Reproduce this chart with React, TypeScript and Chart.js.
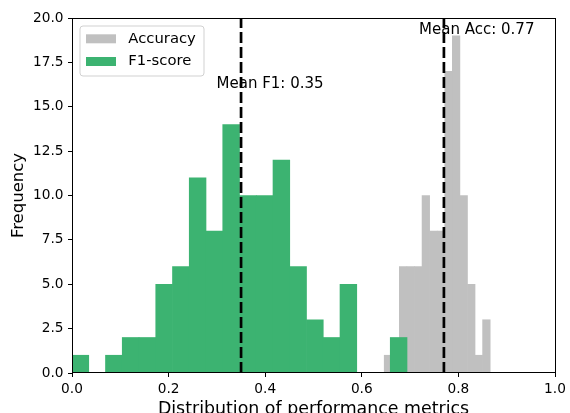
import React, { useEffect, useRef } from "react";
import { Chart, registerables } from "chart.js";

Chart.register(...registerables);

// Histogram counts per bin (equal-width bins spanning each range)
const f1Counts = [1, 0, 1, 2, 2, 5, 6, 11, 8, 14, 10, 10, 12, 6, 3, 2, 5, 0, 0, 2];
const f1Range = [0.0, 0.6936];
const accCounts = [1, 0, 6, 6, 6, 10, 8, 8, 17, 19, 10, 5, 1, 3];
const accRange = [0.6464, 0.8658];

// Means: [F1-score, Accuracy]
const meanValues = [0.35, 0.77];
const meanLabels = ["Mean F1: 0.35", "Mean Acc: 0.77"];
const meanLabelX = [0.41, 0.838];
const meanLabelY = [16.3, 19.3];

const seriesLabels = ["Accuracy", "F1-score"];
const seriesColors = ["#C0C0C0", "#3CB371"];

const xTitle = "Distribution of performance metrics";
const yTitle = "Frequency";

const FONT = "DejaVu Sans";

function histBars(counts: number[], range: number[]) {
  const w = (range[1] - range[0]) / counts.length;
  return counts.map((c, i) => ({ x: range[0] + (i + 0.5) * w, y: c }));
}

const decorPlugin = {
  id: "decor",
  afterDatasetsDraw(chart: any) {
    const { ctx, chartArea: a, scales } = chart;
    const sx = scales.x;
    const sy = scales.y;
    ctx.save();

    // axes frame
    ctx.strokeStyle = "#000";
    ctx.lineWidth = 1;
    ctx.strokeRect(a.left + 0.5, a.top + 0.5, a.right - a.left, a.bottom - a.top - 1);

    // mean annotations
    ctx.fillStyle = "#000";
    ctx.font = `15px "${FONT}"`;
    ctx.textAlign = "center";
    ctx.textBaseline = "middle";
    meanLabels.forEach((t, i) => {
      ctx.fillText(t, sx.getPixelForValue(meanLabelX[i]), sy.getPixelForValue(meanLabelY[i]));
    });

    // legend
    const lx = a.left + 8;
    const ly = a.top + 8;
    const lw = 124;
    const lh = 50;
    const r = 3;
    ctx.beginPath();
    ctx.moveTo(lx + r, ly);
    ctx.arcTo(lx + lw, ly, lx + lw, ly + lh, r);
    ctx.arcTo(lx + lw, ly + lh, lx, ly + lh, r);
    ctx.arcTo(lx, ly + lh, lx, ly, r);
    ctx.arcTo(lx, ly, lx + lw, ly, r);
    ctx.closePath();
    ctx.fillStyle = "rgba(255,255,255,0.8)";
    ctx.fill();
    ctx.strokeStyle = "rgba(204,204,204,0.9)";
    ctx.lineWidth = 1;
    ctx.stroke();

    ctx.font = `14.8px "${FONT}"`;
    ctx.textAlign = "left";
    ctx.textBaseline = "middle";
    seriesLabels.forEach((t, i) => {
      const cy = ly + 12.8 + i * 22.7;
      ctx.fillStyle = seriesColors[i];
      ctx.fillRect(lx + 6, cy - 4.5, 30, 9);
      ctx.fillStyle = "#000";
      ctx.fillText(t, lx + 48.3, cy);
    });

    ctx.restore();
  },
};

export default function App() {
  const ref = useRef<HTMLCanvasElement>(null);

  useEffect(() => {
    const canvas = ref.current;
    if (!canvas) return;

    const tickFont = { family: FONT, size: 13.7 };

    const chart = new Chart(canvas, {
      type: "bar",
      data: {
        datasets: [
          {
            type: "bar",
            label: seriesLabels[0],
            data: histBars(accCounts, accRange),
            xAxisID: "xAcc",
            backgroundColor: seriesColors[0],
            borderWidth: 0,
            barPercentage: 1,
            categoryPercentage: 1,
            grouped: false,
            order: 2,
          },
          {
            type: "bar",
            label: seriesLabels[1],
            data: histBars(f1Counts, f1Range),
            xAxisID: "x",
            backgroundColor: seriesColors[1],
            borderWidth: 0,
            barPercentage: 1,
            categoryPercentage: 1,
            grouped: false,
            order: 1,
          },
          ...meanValues.map((m) => ({
            type: "line" as const,
            label: "mean",
            data: [
              { x: m, y: 0 },
              { x: m, y: 20 },
            ],
            xAxisID: "x",
            borderColor: "#000",
            borderWidth: 2.7,
            borderDash: [11, 4],
            borderCapStyle: "butt" as const,
            pointRadius: 0,
            fill: false,
            order: 0,
          })),
        ] as any,
      },
      options: {
        responsive: false,
        animation: false,
        layout: { padding: { top: 18, right: 15, left: 0, bottom: 0 } },
        plugins: {
          legend: { display: false },
          tooltip: { enabled: false },
        },
        scales: {
          x: {
            type: "linear",
            min: 0,
            max: 1,
            offset: false,
            afterFit: (s: any) => {
              s.height = 40;
            },
            grid: {
              display: true,
              offset: false,
              drawOnChartArea: false,
              drawTicks: true,
              tickLength: 4,
              tickColor: "#000",
              tickWidth: 1,
            },
            border: { display: false },
            ticks: {
              stepSize: 0.2,
              padding: 3.8,
              color: "#000",
              font: tickFont,
              maxRotation: 0,
              callback: (v: any) => Number(v).toFixed(1),
            },
            title: {
              display: true,
              text: xTitle,
              color: "#000",
              font: { family: FONT, size: 17.4, lineHeight: 0.45 },
              padding: { top: 0, bottom: 0 },
            },
          },
          xAcc: {
            type: "linear",
            display: false,
            min: 0,
            max: 1,
            offset: false,
            grid: { offset: false },
          },
          y: {
            type: "linear",
            min: 0,
            max: 20,
            afterFit: (s: any) => {
              s.width = 72;
            },
            grid: {
              display: true,
              drawOnChartArea: false,
              drawTicks: true,
              tickLength: 4,
              tickColor: "#000",
              tickWidth: 1,
            },
            border: { display: false },
            ticks: {
              stepSize: 2.5,
              padding: 4.5,
              color: "#000",
              font: tickFont,
              callback: (v: any) => Number(v).toFixed(1),
            },
            title: {
              display: true,
              text: yTitle,
              color: "#000",
              font: { family: FONT, size: 16.5, lineHeight: 1 },
              padding: { top: 10.5, bottom: 0 },
            },
          },
        },
      },
      plugins: [decorPlugin],
    });

    return () => chart.destroy();
  }, []);

  return (
    <div style={{ position: "fixed", left: 0, top: 0, width: 570, height: 413, background: "#fff" }}>
      <canvas ref={ref} width={570} height={413} style={{ display: "block" }} />
    </div>
  );
}
